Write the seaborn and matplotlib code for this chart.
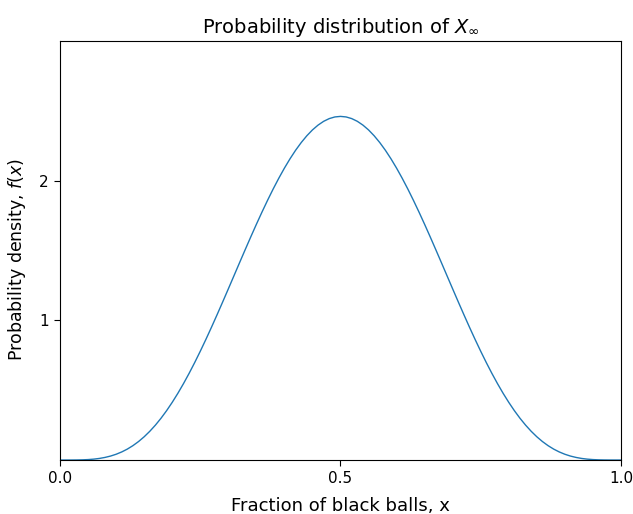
import numpy as np
import pandas as pd
import seaborn as sns
import matplotlib.pyplot as plt

# density values, x from 0.00 to 1.00 in steps of 0.01
density = [0.0000, 0.0000, 0.0001, 0.0005, 0.0014, 0.0032, 0.0064, 0.0113, 0.0185, 0.0283,
           0.0413, 0.0579, 0.0783, 0.1031, 0.1324, 0.1665, 0.2056, 0.2497, 0.2990, 0.3534,
           0.4129, 0.4772, 0.5463, 0.6197, 0.6973, 0.7787, 0.8633, 0.9508, 1.0407, 1.1323,
           1.2252, 1.3188, 1.4125, 1.5055, 1.5975, 1.6876, 1.7753, 1.8600, 1.9411, 2.0180,
           2.0902, 2.1572, 2.2185, 2.2736, 2.3222, 2.3640, 2.3985, 2.4257, 2.4452, 2.4570,
           2.4609,
           2.4570, 2.4452, 2.4257, 2.3985, 2.3640, 2.3222, 2.2736, 2.2185, 2.1572, 2.0902,
           2.0180, 1.9411, 1.8600, 1.7753, 1.6876, 1.5975, 1.5055, 1.4125, 1.3188, 1.2252,
           1.1323, 1.0407, 0.9508, 0.8633, 0.7787, 0.6973, 0.6197, 0.5463, 0.4772, 0.4129,
           0.3534, 0.2990, 0.2497, 0.2056, 0.1665, 0.1324, 0.1031, 0.0783, 0.0579, 0.0413,
           0.0283, 0.0185, 0.0113, 0.0064, 0.0032, 0.0014, 0.0005, 0.0001, 0.0000, 0.0000]
x_vals = np.linspace(0.0, 1.0, len(density))
x_ticks = [0.0, 0.5, 1.0]
y_ticks = [1, 2]

sns.set_style("ticks")
plt.rcParams['font.family'] = ['DejaVu Sans']
plt.rcParams['text.color'] = 'black'
plt.rcParams['axes.labelcolor'] = 'black'
plt.rcParams['xtick.color'] = 'black'
plt.rcParams['ytick.color'] = 'black'

df = pd.DataFrame({'x': x_vals, 'f': density})

fig = plt.figure(figsize=(6.33, 5.14), dpi=100)
ax = fig.add_axes([0.0948, 0.105, 0.8862, 0.815])
sns.lineplot(data=df, x='x', y='f', ax=ax, color='#1f77b4', linewidth=1.0)

ax.set_xlim(0, 1)
ax.set_ylim(0, 3)
ax.set_xticks(x_ticks)
ax.set_xticklabels([f'{t:.1f}' for t in x_ticks])
ax.set_yticks(y_ticks)
ax.set_yticklabels([str(t) for t in y_ticks])
ax.tick_params(labelsize=11, length=4.5, width=0.8, colors='black')
for s in ax.spines.values():
    s.set_color('black')
    s.set_linewidth(0.8)

ax.set_title(r'Probability distribution of $X_\infty$', fontsize=14)
ax.set_xlabel('Fraction of black balls, x', fontsize=13, labelpad=8)
ax.set_ylabel(r'Probability density, $f(x)$', fontsize=12.5)
ax.yaxis.set_label_coords(-0.057, 0.48)

fig.savefig('out.png', dpi=100)
